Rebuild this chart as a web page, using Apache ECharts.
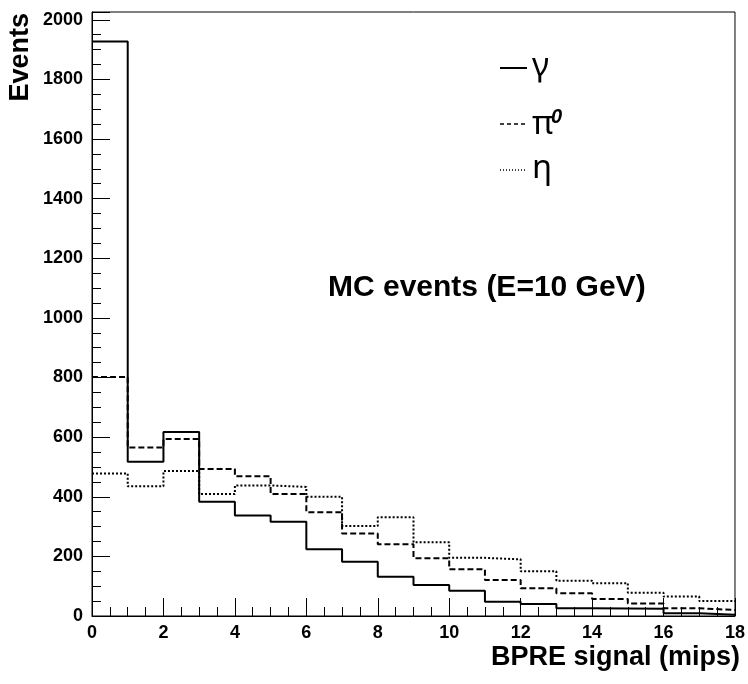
<!DOCTYPE html>
<html>
<head>
<meta charset="utf-8">
<script src="https://cdn.jsdelivr.net/npm/echarts@6/dist/echarts.min.js"></script>
<style>html,body{margin:0;padding:0;background:#fff}#c{width:748px;height:684px}</style>
</head>
<body>
<div id="c"></div>
<script>
// Bin edges (BPRE signal, mips)
var binEdges = [0,1,2,3,4,5,6,7,8,9,10,11,12,13,14,15,16,17,18];
// Bin contents (events per bin)
var gammaCounts = [1927, 517, 617, 383, 337, 316, 224, 182, 132, 104, 85, 48, 40, 26, 25, 24, 9, 4];
var pi0Counts   = [802, 565, 594, 493, 469, 409, 348, 277, 241, 194, 157, 121, 93, 76, 57, 42, 26, 20];
var etaCounts   = [478, 435, 486, 409, 438, 433, 400, 302, 331, 247, 195, 190, 150, 118, 110, 78, 65, 50];
var yTickLabels = [0,200,400,600,800,1000,1200,1400,1600,1800,2000];
var xTickLabels = [0,2,4,6,8,10,12,14,16,18];

function stepData(counts){
  return binEdges.map(function(e,i){ return [e, counts[Math.min(i, counts.length-1)]]; });
}

var FONT = 'Liberation Sans';
var GREEK = '"Noto Sans"';
var YMAX = 2026;
var chart = echarts.init(document.getElementById('c'), null, {renderer:'canvas'});

function legLine(y, dash, w){
  return {type:'line', shape:{x1:500, y1:y, x2:527, y2:y}, style:{stroke:'#000', lineWidth:w, lineDash:dash}};
}
function legText(x, y, t, font){
  return {type:'text', x:x, y:y, style:{text:t, font:font, fill:'#000', align:'left', verticalAlign:'middle'}};
}

var option = {
  animation: false,
  backgroundColor: '#fff',
  grid: {left: 92, right: 13, top: 12, bottom: 68, show: true, borderColor: '#000', borderWidth: 1, containLabel: false},
  xAxis: [
    {type:'value', min:0, max:18, interval:2, position:'bottom',
     axisLine:{show:true, onZero:false, lineStyle:{color:'#000', width:1}},
     axisTick:{show:true, inside:true, length:18, lineStyle:{color:'#000'}},
     axisLabel:{fontFamily:FONT, fontWeight:'bold', fontSize:18, color:'#000', margin:8,
       formatter:function(v){ return xTickLabels.indexOf(v) >= 0 ? String(v) : ''; }},
     splitLine:{show:false}},
    {type:'value', min:0, max:18, interval:0.5, position:'bottom',
     axisLine:{show:false, onZero:false},
     axisTick:{show:true, inside:true, length:9, lineStyle:{color:'#000'}},
     axisLabel:{show:false}, splitLine:{show:false}}
  ],
  yAxis: [
    {type:'value', min:0, max:YMAX, interval:200, position:'left',
     axisLine:{show:true, onZero:false, lineStyle:{color:'#000', width:1}},
     axisTick:{show:true, inside:true, length:18, lineStyle:{color:'#000'}},
     axisLabel:{fontFamily:FONT, fontWeight:'bold', fontSize:18, color:'#000', margin:9,
       formatter:function(v){ return yTickLabels.indexOf(v) >= 0 ? String(v) : ''; }},
     splitLine:{show:false}},
    {type:'value', min:0, max:YMAX, interval:50, position:'left',
     axisLine:{show:false, onZero:false},
     axisTick:{show:true, inside:true, length:9, lineStyle:{color:'#000'}},
     axisLabel:{show:false}, splitLine:{show:false}}
  ],
  series: [
    {name:'η', type:'line', step:'end', data: stepData(etaCounts), symbol:'none', z:3,
     lineStyle:{color:'#000', width:2, type:[2,2]}, itemStyle:{color:'#000'}},
    {name:'π0', type:'line', step:'end', data: stepData(pi0Counts), symbol:'none', z:4,
     lineStyle:{color:'#000', width:2, type:[6,3]}, itemStyle:{color:'#000'}},
    {name:'γ', type:'line', step:'end', data: stepData(gammaCounts), symbol:'none', z:5,
     lineStyle:{color:'#000', width:2, type:'solid'}, itemStyle:{color:'#000'}}
  ],
  graphic: [
    legLine(68, null, 2),
    legText(532, 67, 'γ', '33px ' + GREEK),
    legLine(124, [4,3], 1.5),
    legText(532, 125, 'π', '33px ' + GREEK),
    legText(551, 117, '0', 'italic bold 20px "Liberation Sans"'),
    legLine(170, [1,2], 1.5),
    legText(532, 169, 'η', '33px ' + GREEK),
    {type:'text', left: 328, top: 273, style:{text:'MC events (E=10 GeV)', font:'bold 30px "Liberation Sans"', fill:'#000'}},
    {type:'text', right: 8, top: 644, style:{text:'BPRE signal (mips)', font:'bold 27px "Liberation Sans"', fill:'#000'}},
    {type:'text', x: 21, y: 13, rotation: Math.PI/2, style:{text:'Events', font:'bold 27px "Liberation Sans"', fill:'#000', align:'right', verticalAlign:'middle'}}
  ]
};
chart.setOption(option);
</script>
</body>
</html>
